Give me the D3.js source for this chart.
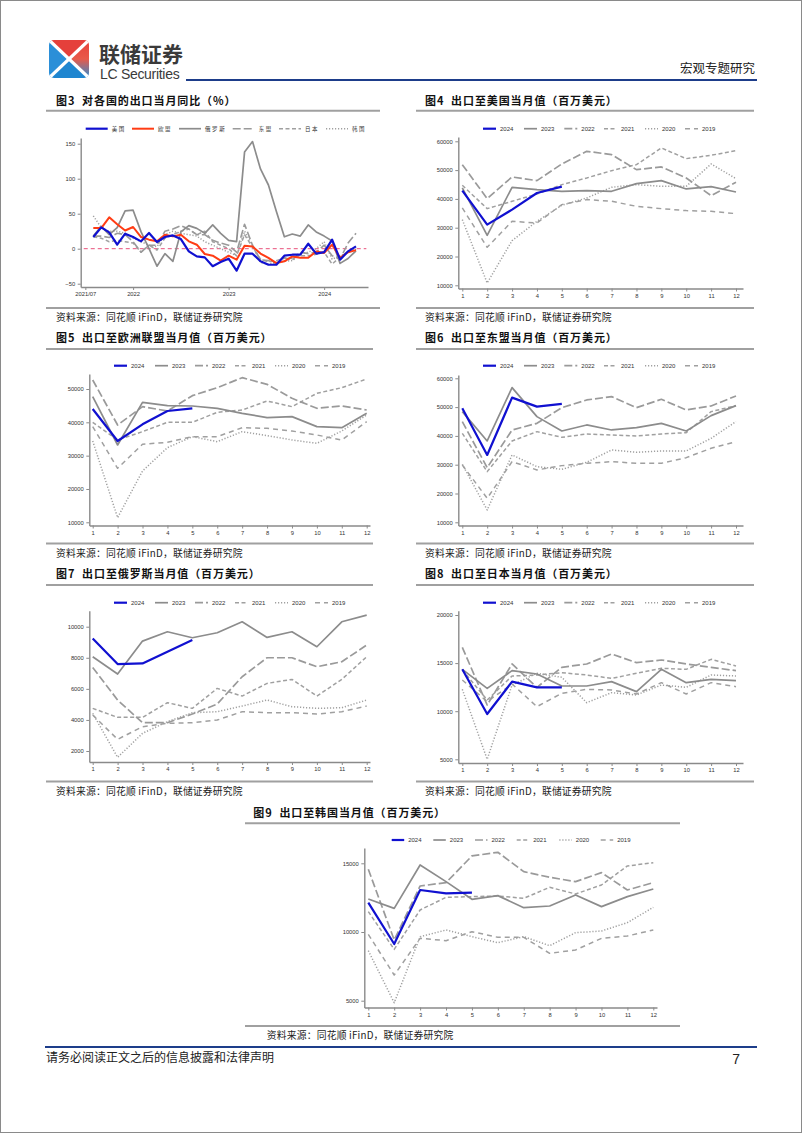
<!DOCTYPE html>
<html><head><meta charset="utf-8">
<script src="https://cdn.jsdelivr.net/npm/d3@7"></script>
<style>
html,body{margin:0;padding:0;background:#fff;}
svg{display:block;}
</style></head><body>
<svg id="page" width="802" height="1133"></svg>
<script>
// ---------------- DATA ----------------
// Figure 3: YoY export growth by destination (%), 2021/08 - 2024/05
const yoyTickLabels = ["2021/07", "2022", "2023", "2024"];
const yoyTickIdx = [-1, 5, 17, 29];
const yoyNames = ["美国", "欧盟", "俄罗斯", "东盟", "日本", "韩国"];
const yoyUS = [16.7, 30.5, 23.3, 5.7, 21.4, 16.7, 10.5, 22.4, 9.5, 16.7, 19, 13.8, -3.8, -11, -12.4, -25, -19, -14.3, -31.4, -7.1, -7.1, -18, -22.9, -22.9, -10, -8.6, -8.6, 7.1, -7.1, -4.8, 12.9, -15.7, -3.8, 3.3];
const yoyEU = [29.5, 29.5, 44.8, 35, 26, 31, 16.7, 12.9, 10.5, 20, 17.6, 20, 10.5, 5.7, -7.6, -10, -17, -10, -15.7, 4.3, 3.3, -7, -13, -20.5, -18, -11, -13, -13, -4, -6, 5.7, -13, -5, -2];
const yoyRU = [18, 32, 20, 30, 54, 55, 24, 0, -25, -7, -18, 24, 33, 29, 22, 34, 22, 12, 10, 138, 153, 114, 91, 53, 17, 21, 18, 34, 24, 18, 11, -21, -14, -3];
const yoyASEAN = [18, 18, 16, 22, 20, 10, -5, 5, 5, 25, 28, 33, 28, 20, 20, 12, 8, 5, -5, 35, 5, -16, -17, -21, -13, -16, -5, -7, -5, 5, -10, -15, 8, 22];
const yoyJP = [17, 15, 10, 12, 10, 8, -5, 5, -2, 15, 20, 25, 28, 20, 25, 10, 5, 0, -10, 20, 2, -15, -19, -17, -13, -14, -10, -10, -8, -5, -22, -12, -5, -1];
const yoyKR = [47, 30, 25, 25, 22, 15, 10, 5, 3, 20, 25, 22, 20, 18, 10, 5, 0, -5, -10, 25, 5, -20, -22, -20, -18, -17, -8, -5, 0, 10, -15, -10, -5, 0];
const yoyTicks = [-50, 0, 50, 100, 150];

// Monthly export values (USD mn)
const months = [1,2,3,4,5,6,7,8,9,10,11,12];
const years = ["2024", "2023", "2022", "2021", "2020", "2019"];

const us2024 = [42870, 31060, 36270, 42060, 44260];
const us2023 = [43800, 27360, 44030, 43220, 42640, 42870, 42640, 45300, 46340, 43450, 44260, 42400];
const us2022 = [51900, 40090, 47620, 46340, 52130, 56530, 55370, 50160, 51090, 47270, 41130, 45760];
const us2021 = [44720, 36620, 39170, 41710, 44950, 47270, 49810, 51900, 57690, 53980, 55140, 56760];
const us2020 = [32800, 10810, 25510, 32220, 37780, 40320, 44030, 44950, 44370, 44370, 52130, 47040];
const us2019 = [36850, 23190, 32220, 31640, 38010, 39750, 39170, 37430, 36620, 35930, 35690, 34880];
const usTicks = [10000, 20000, 30000, 40000, 50000, 60000];

const eu2024 = [44000, 34400, 39400, 43400, 44200];
const eu2023 = [47700, 33200, 46000, 45000, 44900, 44200, 42700, 41400, 41700, 38700, 38400, 42700];
const eu2022 = [52700, 39200, 44700, 43400, 48000, 50400, 53400, 51400, 47200, 44200, 44900, 43700];
const eu2021 = [40000, 34700, 37200, 40000, 40000, 43000, 43700, 46400, 44700, 48700, 50400, 53000];
const eu2020 = [34400, 11400, 25400, 32400, 35700, 34200, 37200, 36000, 34700, 33700, 37400, 42200];
const eu2019 = [38700, 26200, 33400, 34000, 35700, 35700, 38400, 38200, 37400, 36200, 34700, 40200];
const euTicks = [10000, 20000, 30000, 40000, 50000];

const as2024 = [49580, 33380, 53290, 50160, 51090];
const as2023 = [48430, 38240, 56760, 46690, 41710, 43800, 42060, 42870, 44370, 41710, 47040, 50510];
const as2022 = [44950, 28980, 42060, 44370, 49810, 52480, 53640, 49810, 52710, 49000, 50390, 53870];
const as2021 = [40900, 27590, 38240, 41480, 39510, 40670, 40320, 39980, 40670, 41130, 48430, 50510];
const as2020 = [30140, 14280, 33380, 29330, 28400, 30830, 35120, 34310, 34770, 34770, 39170, 44950];
const as2019 = [29910, 18330, 31060, 28170, 29680, 30490, 31060, 30490, 30490, 32450, 35690, 38010];
const asTicks = [10000, 20000, 30000, 40000, 50000, 60000];

const ru2024 = [9245, 7595, 7637, 8388, 9138];
const ru2023 = [8066, 6952, 9073, 9673, 9288, 9610, 10317, 9310, 9673, 8710, 10317, 10746];
const ru2022 = [7380, 5280, 3822, 3822, 4380, 5023, 6780, 8002, 8002, 7423, 7745, 8816];
const ru2021 = [4744, 4165, 4165, 5108, 4744, 6030, 5537, 6351, 6609, 5537, 6609, 8066];
const ru2020 = [4422, 1593, 3136, 3886, 4465, 4529, 4894, 5280, 4851, 4744, 4786, 5280];
const ru2019 = [4315, 2750, 3565, 3779, 3822, 3993, 4529, 4465, 4465, 4379, 4529, 4894];
const ruTicks = [2000, 4000, 6000, 8000, 10000];

const jp2024 = [14353, 9711, 13071, 12482, 12482];
const jp2023 = [14353, 12378, 14214, 13868, 12621, 12621, 13071, 12032, 14353, 12967, 13314, 13175];
const jp2022 = [16639, 10646, 14907, 12482, 14561, 14907, 15946, 15046, 15323, 14907, 14561, 14214];
const jp2021 = [14284, 11166, 13660, 13764, 14006, 13764, 13418, 13937, 14457, 14353, 15392, 14700];
const jp2020 = [12274, 5000, 12725, 13937, 13522, 10889, 11928, 11686, 12725, 12482, 13764, 13660];
const jp2019 = [13245, 10993, 12829, 10473, 11859, 12274, 12205, 11790, 12967, 11790, 12967, 12552];
const jpTicks = [5000, 10000, 15000, 20000];

const kr2024 = [12136, 9126, 13058, 12816, 12864];
const kr2023 = [12403, 11723, 14879, 13665, 12379, 12646, 11772, 11893, 12694, 11845, 12573, 13131];
const kr2022 = [14563, 9417, 13350, 13592, 15534, 15801, 14393, 13981, 13665, 14320, 13058, 13592];
const kr2021 = [11481, 8738, 11602, 12524, 12573, 12621, 12451, 13252, 12767, 13422, 14806, 15048];
const kr2020 = [8641, 4854, 9660, 10146, 9660, 9223, 9660, 9005, 9951, 10073, 10680, 11796];
const kr2019 = [9830, 6869, 9539, 9369, 10024, 9612, 9612, 8447, 8689, 9539, 9709, 10146];
const krTicks = [5000, 10000, 15000];

// ---------------- STYLE ----------------
const CJK = "'Noto Sans CJK SC','Noto Sans',sans-serif";
const NUM = "'Liberation Sans',Arial,sans-serif";
const AXIS = "#8a8a8a";
const yearStyles = [
  {color:"#1010d0", w:2.2, dash:null},
  {color:"#8c8c8c", w:1.7, dash:null},
  {color:"#9a9a9a", w:1.7, dash:"8,3"},
  {color:"#a0a0a0", w:1.5, dash:"4,2.5"},
  {color:"#a0a0a0", w:1.5, dash:"1.2,1.8"},
  {color:"#a0a0a0", w:1.5, dash:"5,4"}
];
const yoyStyles = [
  {color:"#1010d0", w:2.2, dash:null},
  {color:"#ff3c14", w:2.0, dash:null},
  {color:"#8c8c8c", w:1.7, dash:null},
  {color:"#9a9a9a", w:1.6, dash:"8,3"},
  {color:"#a0a0a0", w:1.5, dash:"4,2.5"},
  {color:"#a0a0a0", w:1.5, dash:"1.2,1.8"}
];

const svg = d3.select("#page");
svg.append("rect").attr("x",0.5).attr("y",0.5).attr("width",801).attr("height",1132)
  .attr("fill","#fff").attr("stroke","#8a8a8a").attr("stroke-width",1);

// ---------------- HEADER ----------------
const defs = svg.append("defs");
const grad = defs.append("linearGradient").attr("id","rg").attr("x1","0").attr("y1","0").attr("x2","0").attr("y2","1");
grad.append("stop").attr("offset","0").attr("stop-color","#e8403a");
grad.append("stop").attr("offset","0.5").attr("stop-color","#e85a4a");
grad.append("stop").attr("offset","1").attr("stop-color","#2a8fd6");
defs.append("clipPath").attr("id","logoClip").append("rect")
  .attr("x",0).attr("y",0).attr("width",40).attr("height",38).attr("rx",5);
const logo = svg.append("g").attr("transform","translate(49,40)").attr("clip-path","url(#logoClip)");
const cx = 21, cy = 19;
logo.append("polygon").attr("points",`0,0 40,0 ${cx},${cy}`).attr("fill","#e5403b");
logo.append("polygon").attr("points",`40,0 40,38 ${cx},${cy}`).attr("fill","url(#rg)");
logo.append("polygon").attr("points",`0,0 0,38 ${cx},${cy}`).attr("fill","#2b8fd8");
logo.append("polygon").attr("points",`0,38 40,38 ${cx},${cy}`).attr("fill","#1f86d0");
logo.append("line").attr("x1",0).attr("y1",0).attr("x2",40).attr("y2",38).attr("stroke","#fff").attr("stroke-width",3.2);
logo.append("line").attr("x1",0).attr("y1",38).attr("x2",40).attr("y2",0).attr("stroke","#fff").attr("stroke-width",3.2);

svg.append("text").attr("x",99).attr("y",62).attr("font-family",CJK).attr("font-weight","bold")
  .attr("font-size",21).attr("fill","#3a3a3a").text("联储证券");
svg.append("text").attr("x",100).attr("y",79).attr("font-family",NUM)
  .attr("font-size",14).attr("fill","#3a3a3a").attr("letter-spacing",-0.3).text("LC Securities");
svg.append("line").attr("x1",186).attr("x2",757).attr("y1",80).attr("y2",80)
  .attr("stroke","#1d3d8a").attr("stroke-width",2);
svg.append("text").attr("x",755).attr("y",73).attr("text-anchor","end").attr("font-family",CJK)
  .attr("font-size",12.5).attr("fill","#222").text("宏观专题研究");

// ---------------- FOOTER ----------------
svg.append("line").attr("x1",45).attr("x2",757).attr("y1",1047).attr("y2",1047)
  .attr("stroke","#1d3d8a").attr("stroke-width",2);
svg.append("text").attr("x",46).attr("y",1062).attr("font-family",CJK)
  .attr("font-size",12).attr("fill","#222").text("请务必阅读正文之后的信息披露和法律声明");
svg.append("text").attr("x",740).attr("y",1064).attr("text-anchor","end").attr("font-family",NUM)
  .attr("font-size",14).attr("fill","#222").text("7");

// ---------------- HELPERS ----------------
function panelFrame(cfg) {
  svg.append("text").attr("x",cfg.tx).attr("y",cfg.ty).attr("font-family",CJK).attr("font-weight","bold")
    .attr("font-size",11).attr("letter-spacing",0.9).attr("fill","#111")
    .style("white-space","pre").text(cfg.title);
  svg.append("line").attr("x1",cfg.lx1).attr("x2",cfg.lx2).attr("y1",cfg.ly).attr("y2",cfg.ly)
    .attr("stroke","#a0a0a0").attr("stroke-width",2);
  svg.append("line").attr("x1",cfg.lx1).attr("x2",cfg.lx2).attr("y1",cfg.sy).attr("y2",cfg.sy)
    .attr("stroke","#a0a0a0").attr("stroke-width",2);
  svg.append("text").attr("x",cfg.sx !== undefined ? cfg.sx : cfg.tx).attr("y",cfg.sy+13).attr("font-family",CJK)
    .attr("font-size",9.8).attr("letter-spacing",0.2).attr("fill","#222").text("资料来源：同花顺 iFinD，联储证券研究院");
}

function styleAxis(g) {
  g.select(".domain").attr("stroke",AXIS).attr("stroke-width",1.4);
  g.selectAll(".tick line").attr("stroke",AXIS).attr("stroke-width",1);
  g.selectAll(".tick text").attr("font-family",NUM).attr("font-size",5.8).attr("fill","#333");
}

function legend(items, styles, x0s, y, len, gap, fontFam, fsize, ls) {
  items.forEach((name, i) => {
    const s = styles[i];
    svg.append("line").attr("x1",x0s[i]).attr("x2",x0s[i]+len).attr("y1",y).attr("y2",y)
      .attr("stroke",s.color).attr("stroke-width",s.w).attr("stroke-dasharray",s.dash);
    svg.append("text").attr("x",x0s[i]+len+gap).attr("y",y+2).attr("font-family",fontFam)
      .attr("font-size",fsize).attr("letter-spacing",ls).attr("fill","#333").text(name);
  });
}

function monthlyChart(c, ticks, series) {
  const yb = d3.scaleLinear().domain([ticks[0], ticks[ticks.length-1]]).range([c.yLo, c.yHi]);
  const y = d3.scaleLinear().domain([yb.invert(c.bottom), yb.invert(c.top)]).range([c.bottom, c.top]);
  const xb = d3.scaleLinear().domain([1,12]).range([c.x1, c.x12]);
  const x = d3.scaleLinear().domain([xb.invert(c.left), xb.invert(c.right)]).range([c.left, c.right]);
  const gy = svg.append("g").attr("transform",`translate(${c.left},0)`)
    .call(d3.axisLeft(y).tickValues(ticks).tickFormat(d3.format("d")).tickSizeInner(3).tickSizeOuter(0).tickPadding(2.5));
  styleAxis(gy);
  const gx = svg.append("g").attr("transform",`translate(0,${c.bottom})`)
    .call(d3.axisBottom(x).tickValues(months).tickFormat(d3.format("d")).tickSizeInner(3).tickSizeOuter(0).tickPadding(2));
  styleAxis(gx);
  const line = d3.line().x((d,i) => x(i+1)).y(d => y(d));
  for (let k = series.length-1; k >= 0; k--) {
    const s = yearStyles[k];
    svg.append("path").datum(series[k]).attr("d",line).attr("fill","none")
      .attr("stroke",s.color).attr("stroke-width",s.w).attr("stroke-dasharray",s.dash)
      .attr("stroke-linejoin","round");
  }
  legend(years, yearStyles, c.legX, c.legY, c.legLen, 4, NUM, 6, 0);
}

// ---------------- FIGURE 3 ----------------
panelFrame({title:"图3  对各国的出口当月同比（%）", tx:56, ty:105, lx1:46, lx2:380, ly:110.7, sy:308});
(function(){
  const left = 80.7, right = 368, top = 138, bottom = 287;
  const yb = d3.scaleLinear().domain([0,150]).range([248.7,143.7]);
  const y = d3.scaleLinear().domain([yb.invert(bottom), yb.invert(top)]).range([bottom, top]);
  const xb = d3.scaleLinear().domain([0,33]).range([93.3, 356]);
  const x = d3.scaleLinear().domain([xb.invert(left), xb.invert(right)]).range([left, right]);
  const gy = svg.append("g").attr("transform",`translate(${left},0)`)
    .call(d3.axisLeft(y).tickValues(yoyTicks).tickSizeInner(3).tickSizeOuter(0).tickPadding(2.5));
  styleAxis(gy);
  const gx = svg.append("g").attr("transform",`translate(0,${bottom})`)
    .call(d3.axisBottom(x).tickValues(yoyTickIdx).tickFormat((d,i) => yoyTickLabels[i]).tickSizeInner(3).tickSizeOuter(0).tickPadding(2));
  styleAxis(gx);
  svg.append("line").attr("x1",x(-1.2)).attr("x2",x(34.3)).attr("y1",y(0)).attr("y2",y(0))
    .attr("stroke","#e8507a").attr("stroke-width",1).attr("stroke-dasharray","4,3");
  const data = [yoyUS, yoyEU, yoyRU, yoyASEAN, yoyJP, yoyKR];
  const line = d3.line().x((d,i) => x(i)).y(d => y(d));
  const order = [5,4,3,2,1,0];
  order.forEach(k => {
    const s = yoyStyles[k];
    svg.append("path").datum(data[k]).attr("d",line).attr("fill","none")
      .attr("stroke",s.color).attr("stroke-width",s.w).attr("stroke-dasharray",s.dash)
      .attr("stroke-linejoin","round");
  });
  legend(yoyNames, yoyStyles, [85.7,132,179,232.7,279,326], 128.7, 22, 4, CJK, 5.5, 1.6);
})();

// ---------------- FIGURE 4 ----------------
const rightLeg = [483,524,564.3,604,645,685];
const leftLeg = [114,155,195,235,275,315];
panelFrame({title:"图4  出口至美国当月值（百万美元）", tx:425, ty:105, lx1:416, lx2:754, ly:110.7, sy:308});
monthlyChart({left:458.3, right:743, top:137, bottom:288.5, x1:462.3, x12:736, yLo:285.3, yHi:141.3,
  legX:rightLeg, legY:128.7, legLen:13}, usTicks, [us2024, us2023, us2022, us2021, us2020, us2019]);

// ---------------- FIGURE 5 ----------------
panelFrame({title:"图5  出口至欧洲联盟当月值（百万美元）", tx:56, ty:342, lx1:46, lx2:373, ly:349, sy:543.5});
monthlyChart({left:89.3, right:370, top:374, bottom:525.5, x1:92.7, x12:366.7, yLo:522.3, yHi:389,
  legX:leftLeg, legY:365.7, legLen:13}, euTicks, [eu2024, eu2023, eu2022, eu2021, eu2020, eu2019]);

// ---------------- FIGURE 6 ----------------
panelFrame({title:"图6  出口至东盟当月值（百万美元）", tx:425, ty:342, lx1:416, lx2:754, ly:349, sy:543.5});
monthlyChart({left:458.3, right:743, top:375, bottom:525.5, x1:462.3, x12:736, yLo:522.3, yHi:378.3,
  legX:rightLeg, legY:365.7, legLen:13}, asTicks, [as2024, as2023, as2022, as2021, as2020, as2019]);

// ---------------- FIGURE 7 ----------------
panelFrame({title:"图7  出口至俄罗斯当月值（百万美元）", tx:56, ty:578, lx1:46, lx2:373, ly:585, sy:781.5});
monthlyChart({left:89.3, right:370, top:610.7, bottom:762, x1:92.7, x12:366.7, yLo:751, yHi:626.7,
  legX:leftLeg, legY:602.7, legLen:13}, ruTicks, [ru2024, ru2023, ru2022, ru2021, ru2020, ru2019]);

// ---------------- FIGURE 8 ----------------
panelFrame({title:"图8  出口至日本当月值（百万美元）", tx:425, ty:578, lx1:416, lx2:754, ly:585, sy:781.5});
monthlyChart({left:458.3, right:743, top:610.7, bottom:763, x1:462.3, x12:736, yLo:759.3, yHi:615,
  legX:rightLeg, legY:602.7, legLen:13}, jpTicks, [jp2024, jp2023, jp2022, jp2021, jp2020, jp2019]);

// ---------------- FIGURE 9 ----------------
panelFrame({title:"图9  出口至韩国当月值（百万美元）", tx:253.3, sx:266.7, ty:817, lx1:245, lx2:680, ly:823.3, sy:1026});
monthlyChart({left:364.3, right:657, top:848, bottom:1007.5, x1:368.3, x12:653.3, yLo:1000.7, yHi:863.3,
  legX:[391.7,433.3,475,516.7,559.3,600.7], legY:840, legLen:12.5}, krTicks, [kr2024, kr2023, kr2022, kr2021, kr2020, kr2019]);
</script></body></html>
